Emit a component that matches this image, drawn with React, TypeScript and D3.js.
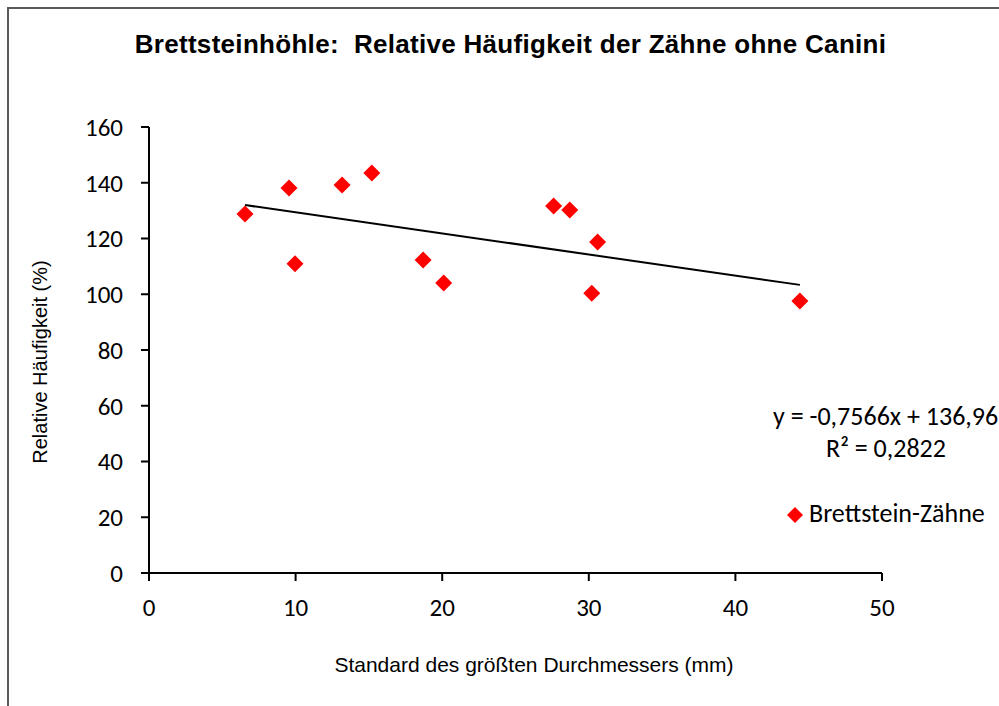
import React from "react";
import * as d3 from "d3";

const xValues = [6.55, 9.55, 9.96, 13.17, 15.2, 18.7, 20.1, 27.6, 28.7, 30.6, 30.2, 44.4];
const yValues = [128.8, 138.1, 110.9, 139.2, 143.5, 112.3, 104.0, 131.7, 130.2, 118.7, 100.4, 97.6];
const xTicks = [0, 10, 20, 30, 40, 50];
const yTicks = [0, 20, 40, 60, 80, 100, 120, 140, 160];
const slope = -0.7566;
const intercept = 136.96;
const title = "Brettsteinhöhle:  Relative Häufigkeit der Zähne ohne Canini";
const xTitle = "Standard des größten Durchmessers (mm)";
const yTitle = "Relative Häufigkeit (%)";
const eqText = "y = -0,7566x + 136,96";
const r2Text = "R² = 0,2822";
const seriesName = "Brettstein-Zähne";

const W = 999, H = 706;
const x = d3.scaleLinear().domain([0, 50]).range([149, 882]);
const y = d3.scaleLinear().domain([0, 160]).range([573, 127]);
const calibri = "Carlito, Lato, 'Open Sans', sans-serif";
const arial = "Arial, 'Liberation Sans', sans-serif";

function diamond(cx: number, cy: number, r: number) {
  return `M${cx},${cy - r}L${cx + r},${cy}L${cx},${cy + r}L${cx - r},${cy}Z`;
}

export default function App() {
  const xMin = d3.min(xValues)!;
  const xMax = d3.max(xValues)!;
  const line = d3.line<number>().x((d) => x(d)).y((d) => y(slope * d + intercept));
  return (
    <svg width={W} height={H} style={{ position: "absolute", left: 0, top: 0, display: "block" }}>
      <rect x={0} y={0} width={W} height={H} fill="#fff" />
      <path d={`M8,${H}V8H${W}`} fill="none" stroke="#595959" strokeWidth={2} />
      <text
        x={510.5}
        y={53}
        textAnchor="middle"
        fontFamily={arial}
        fontWeight="bold"
        fontSize={26}
        letterSpacing={0.3}
        fill="#000"
        style={{ whiteSpace: "pre" }}
      >
        {title}
      </text>
      {/* axes */}
      <line x1={x(0)} x2={x(50)} y1={y(0)} y2={y(0)} stroke="#000" strokeWidth={2} />
      <line x1={x(0)} x2={x(0)} y1={y(0)} y2={y(160)} stroke="#000" strokeWidth={2} />
      {yTicks.map((t) => (
        <g key={"y" + t}>
          <line x1={x(0) - 8} x2={x(0)} y1={y(t)} y2={y(t)} stroke="#000" strokeWidth={2} />
          <text x={123} y={y(t)} dy="0.35em" textAnchor="end" fontFamily={calibri} fontSize={25} fill="#000">
            {t}
          </text>
        </g>
      ))}
      {xTicks.map((t) => (
        <g key={"x" + t}>
          <line x1={x(t)} x2={x(t)} y1={y(0)} y2={y(0) + 8} stroke="#000" strokeWidth={2} />
          <text x={x(t)} y={616} textAnchor="middle" fontFamily={calibri} fontSize={25} fill="#000">
            {t}
          </text>
        </g>
      ))}
      <text x={534} y={672} textAnchor="middle" fontFamily={arial} fontSize={21} fill="#000">
        {xTitle}
      </text>
      <text transform={`translate(47,362) rotate(-90)`} textAnchor="middle" fontFamily={arial} fontSize={20} fill="#000">
        {yTitle}
      </text>
      {/* points */}
      {xValues.map((xv, i) => (
        <path key={i} d={diamond(x(xv), y(yValues[i]), 8.5)} fill="#ff0000" />
      ))}
      {/* trendline */}
      <path d={line([xMin, xMax]) || ""} fill="none" stroke="#000" strokeWidth={2} />
      <text x={773} y={425} fontFamily={calibri} fontSize={26} fill="#000">
        {eqText}
      </text>
      <text x={886} y={457} textAnchor="middle" fontFamily={calibri} fontSize={26} fill="#000">
        {r2Text}
      </text>
      <path d={diamond(795, 515, 8)} fill="#ff0000" />
      <text x={809} y={522} fontFamily={calibri} fontSize={26} fill="#000">
        {seriesName}
      </text>
    </svg>
  );
}
